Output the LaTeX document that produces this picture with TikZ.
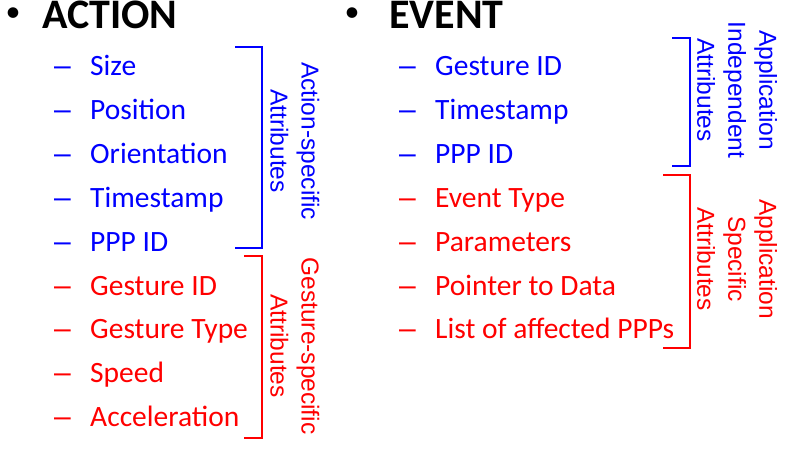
\documentclass[tikz,border=0pt]{standalone}
\usepackage{fontspec}
\setmainfont{Carlito}
\newfontfamily\labfont{Liberation Sans}
\definecolor{pblue}{RGB}{0,0,255}
\definecolor{pred}{RGB}{255,0,0}
\begin{document}
\begin{tikzpicture}[x=1pt,y=-1pt,
  item/.style={anchor=base west, inner sep=0pt, font=\fontsize{29.5}{35}\selectfont},
  dsh/.style={anchor=base west, inner sep=0pt, font=\labfont\fontsize{30}{35}\selectfont},
  head/.style={anchor=base west, inner sep=0pt, font=\fontsize{42}{48}\selectfont\bfseries},
  bul/.style={anchor=center, inner sep=0pt, font=\fontsize{30}{36}\selectfont},
  lab/.style={rotate=-90, align=center, inner sep=0pt, font=\labfont\fontsize{24.5}{31}\selectfont},
  brk/.style={line width=2.5pt}]
\useasboundingbox (0,0) rectangle (787,457);
% headings
\node[bul] (b1) at (13,15) {•};
\node[head] (h1) at (42,28.5) {ACTION};
\node[bul] (b2) at (352,15) {•};
\node[head] (h2) at (389,28.5) {EVENT};
% action items
\foreach \t [count=\i] in {Size,Position,Orientation,Timestamp,PPP ID}{
  \node[dsh,pblue] (ad\i) at (54,{76+43.8*(\i-1)}) {–};
  \node[item,pblue] (a\i) at (90,{76+43.8*(\i-1)}) {\t};
}
\foreach \t [count=\i from 6] in {Gesture ID,Gesture Type,Speed,Acceleration}{
  \node[dsh,pred] (ad\i) at (54,{76+43.8*(\i-1)}) {–};
  \node[item,pred] (a\i) at (90,{76+43.8*(\i-1)}) {\t};
}
% event items
\foreach \t [count=\i] in {Gesture ID,Timestamp,PPP ID}{
  \node[dsh,pblue] (ed\i) at (399,{76+43.8*(\i-1)}) {–};
  \node[item,pblue] (e\i) at (435,{76+43.8*(\i-1)}) {\t};
}
\foreach \t [count=\i from 4] in {Event Type,Parameters,Pointer to Data,List of affected PPPs}{
  \node[dsh,pred] (ed\i) at (399,{76+43.8*(\i-1)}) {–};
  \node[item,pred] (e\i) at (435,{76+43.8*(\i-1)}) {\t};
}
% brackets
\draw[brk,pblue] (235,47) -| (262,248) -- (235,248);
\draw[brk,pred] (244,256) -| (262,438) -- (244,438);
\draw[brk,pblue] (672,38) -| (690,166) -- (672,166);
\draw[brk,pred] (663,175) -| (690,348) -- (663,348);
% labels
\node[lab,pblue] (l1) at (295,141) {Action-specific\\Attributes};
\node[lab,pred] (l2) at (295,346) {Gesture-specific\\Attributes};
\node[lab,pblue] (l3) at (737,90) {Application\\Independent\\Attributes};
\node[lab,pred] (l4) at (737,259) {Application\\Specific\\Attributes};
\end{tikzpicture}
\end{document}
